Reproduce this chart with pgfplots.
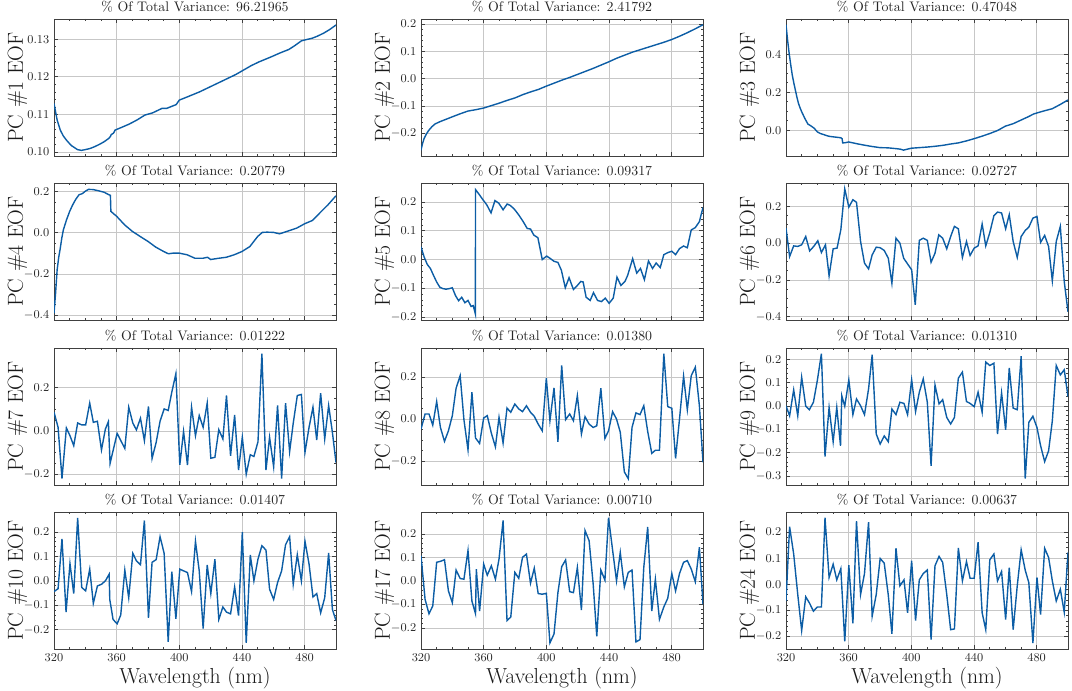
\documentclass[border=0pt]{standalone}
\usepackage{pgfplots}
\pgfplotsset{compat=1.18}
\definecolor{eofblue}{HTML}{0C5DA5}
\pgfplotsset{
  eof/.style={
    scale only axis, width=211.5pt, height=102.75pt,
    xmin=320, xmax=500, xtick={320,360,400,440,480}, minor x tick num=3,
    tick align=inside,
    grid=major, major grid style={black!22, line width=0.45pt},
    axis line style={black!75, line width=0.55pt},
    every tick/.style={black!75, line width=0.45pt},
    major tick length=3.2pt, minor tick length=1.6pt,
    tick label style={font=\fontsize{8.6}{9}\selectfont, text=black!85},
    title style={font=\fontsize{10.4}{12}\selectfont, text=black!85, yshift=-4.5pt},
    ylabel style={font=\fontsize{16.3}{18}\selectfont, text=black!90,
      at={(axis description cs:-0.11,0.5)}, anchor=base, rotate=0, inner sep=0pt},
    xlabel style={font=\fontsize{16.3}{18}\selectfont, text=black!90, yshift=2.5pt},
    yticklabel style={/pgf/number format/.cd, fixed, fixed zerofill, precision=1},
    cycle list={{eofblue, line width=1.05pt}},
    every axis plot post/.append style={eofblue, line width=1.05pt, mark=none},
    anchor=north west,
  },
  noxl/.style={xticklabels={}},
  botx/.style={xlabel={Wavelength (nm)}},
}
\begin{document}
\begin{tikzpicture}
\useasboundingbox (0,0) rectangle (804pt,-518.25pt);
% ---------------- Row 1
\begin{axis}[eof, noxl, at={(40.5pt,-14.25pt)},
  title={\% Of Total Variance: 96.21965}, ylabel={PC \#1 EOF},
  ymin=0.0989, ymax=0.1354, ytick={0.10,0.11,0.12,0.13}, minor y tick num=4,
  yticklabel style={/pgf/number format/.cd, fixed, fixed zerofill, precision=2}]
\addplot coordinates {(320,0.1129)(322,0.1085)(324,0.1058)(326,0.1042)(328,0.1031)(331,0.1017)(335,0.1006)(337.5,0.1004)(340,0.1006)(343,0.1009)(346,0.1014)(349,0.1020)(352,0.1027)(355,0.1036)(356,0.1041)(356.5,0.1046)(358,0.1050)(359,0.1058)(363,0.1065)(368,0.1074)(373,0.1085)(378,0.1098)(383,0.1104)(389,0.1116)(392,0.1116)(395,0.1121)(398,0.1126)(400,0.1138)(406,0.1148)(413,0.1160)(420,0.1174)(430,0.1194)(436,0.1206)(441,0.1218)(446,0.1230)(451,0.1240)(458,0.1252)(464,0.1263)(470,0.1273)(474,0.1284)(478,0.1296)(485,0.1303)(488,0.1308)(492,0.1316)(496,0.1326)(500,0.1338)};
\end{axis}
\begin{axis}[eof, noxl, at={(315.75pt,-14.25pt)},
  title={\% Of Total Variance: 2.41792}, ylabel={PC \#2 EOF},
  ymin=-0.282, ymax=0.218, ytick={-0.2,-0.1,0,0.1,0.2}, minor y tick num=4]
\addplot coordinates {(320,-0.261)(321,-0.236)(322,-0.218)(323.5,-0.201)(325,-0.188)(327,-0.175)(329,-0.165)(332,-0.157)(336,-0.148)(340,-0.139)(345,-0.128)(350,-0.118)(355,-0.113)(360,-0.107)(365,-0.098)(370,-0.089)(375,-0.079)(380,-0.070)(385,-0.058)(390,-0.048)(395,-0.039)(400,-0.027)(405,-0.016)(410,-0.005)(415,0.005)(420,0.016)(425,0.027)(430,0.038)(435,0.050)(440,0.062)(445,0.075)(450,0.086)(455,0.097)(460,0.106)(465,0.115)(470,0.124)(475,0.133)(480,0.143)(485,0.155)(490,0.168)(495,0.182)(500,0.197)};
\end{axis}
\begin{axis}[eof, noxl, at={(589.5pt,-14.25pt)},
  title={\% Of Total Variance: 0.47048}, ylabel={PC \#3 EOF},
  ymin=-0.136, ymax=0.585, ytick={0,0.2,0.4}, minor y tick num=3]
\addplot coordinates {(320,0.555)(321,0.475)(322,0.405)(323,0.345)(324,0.29)(325,0.248)(326,0.21)(327,0.172)(328,0.14)(329,0.117)(330,0.097)(332,0.062)(334,0.032)(336,0.022)(338,0.010)(340,-0.009)(342,-0.018)(344,-0.023)(346,-0.029)(348,-0.033)(352,-0.037)(355,-0.040)(355.8,-0.045)(356.2,-0.067)(358,-0.066)(360,-0.062)(365,-0.071)(370,-0.079)(375,-0.086)(380,-0.092)(385,-0.093)(390,-0.097)(393,-0.100)(395,-0.105)(397,-0.101)(400,-0.095)(405,-0.092)(410,-0.089)(415,-0.085)(420,-0.080)(425,-0.073)(430,-0.067)(435,-0.057)(440,-0.045)(445,-0.032)(450,-0.018)(455,-0.002)(460,0.021)(465,0.034)(470,0.053)(475,0.072)(478,0.085)(482,0.095)(485,0.102)(490,0.113)(495,0.135)(500,0.159)};
\end{axis}
% ---------------- Row 2
\begin{axis}[eof, noxl, at={(40.5pt,-137.25pt)},
  title={\% Of Total Variance: 0.20779}, ylabel={PC \#4 EOF},
  ymin=-0.424, ymax=0.242, ytick={-0.4,-0.2,0,0.2}, minor y tick num=3]
\addplot coordinates {(320,-0.392)(321,-0.294)(322,-0.18)(323,-0.12)(324,-0.075)(325,-0.025)(326,0.015)(328,0.063)(330,0.104)(332,0.137)(334,0.164)(336,0.185)(338,0.190)(340,0.202)(342,0.211)(345,0.210)(348,0.205)(352,0.197)(355,0.185)(356,0.182)(356.3,0.104)(360,0.080)(365,0.039)(370,0.007)(375,-0.018)(380,-0.042)(385,-0.070)(390,-0.091)(393,-0.102)(396,-0.099)(400,-0.099)(405,-0.107)(410,-0.124)(415,-0.124)(418,-0.119)(420,-0.130)(425,-0.124)(430,-0.119)(435,-0.107)(440,-0.091)(445,-0.067)(450,-0.018)(453,0.002)(456,0.003)(460,0.002)(464,-0.005)(470,0.010)(475,0.023)(480,0.044)(485,0.060)(490,0.099)(495,0.137)(500,0.180)};
\end{axis}
\begin{axis}[eof, noxl, at={(315.75pt,-137.25pt)},
  title={\% Of Total Variance: 0.09317}, ylabel={PC \#5 EOF},
  ymin=-0.21, ymax=0.266, ytick={-0.2,-0.1,0,0.1,0.2}, minor y tick num=4]
\addplot coordinates {(320,0.044)(322,0.009)(324,-0.017)(326,-0.031)(328,-0.055)(330,-0.078)(332,-0.096)(334,-0.101)(336,-0.103)(338,-0.101)(340,-0.098)(342,-0.125)(344,-0.143)(346,-0.131)(348,-0.150)(350,-0.142)(352,-0.163)(353.3,-0.160)(354.1,-0.176)(354.7,-0.189)(354.8,0.243)(357.3,0.225)(359.5,0.208)(362,0.190)(364.7,0.162)(367.2,0.205)(369.6,0.196)(372.4,0.173)(375,0.193)(377,0.188)(379.6,0.175)(382.4,0.155)(385.2,0.132)(387.8,0.108)(389.9,0.106)(392,0.085)(394.6,0.076)(397.4,0.0)(400.2,0.012)(402.7,0.003)(404.9,-0.006)(407.4,-0.010)(409.6,-0.037)(412.1,-0.098)(414.5,-0.063)(417.3,-0.104)(419.8,-0.090)(422,-0.076)(423.5,-0.078)(425.4,-0.131)(428,-0.142)(430.1,-0.115)(432.7,-0.142)(435.2,-0.146)(437.6,-0.134)(440.1,-0.152)(442.7,-0.134)(445.1,-0.061)(447.6,-0.090)(450.2,-0.076)(451.9,-0.055)(455.1,0.003)(457.7,-0.047)(460.1,-0.031)(462.6,-0.070)(465.2,-0.005)(467.8,-0.031)(470.1,-0.012)(472.7,-0.028)(475,0.017)(477.5,0.024)(480.1,0.029)(482.5,0.017)(485,0.038)(487.6,0.047)(490,0.041)(492.5,0.103)(495.1,0.111)(497.7,0.132)(500,0.181)};
\end{axis}
\begin{axis}[eof, noxl, at={(589.5pt,-137.25pt)},
  title={\% Of Total Variance: 0.02727}, ylabel={PC \#6 EOF},
  ymin=-0.418, ymax=0.327, ytick={-0.4,-0.2,0,0.2}, minor y tick num=3]
\addplot coordinates {(320,0.082)(322.3,-0.073)(324.9,-0.015)(327.5,-0.018)(330,-0.009)(332.6,0.036)(335.1,-0.042)(337.7,-0.018)(340.3,0.013)(342.6,-0.051)(345.2,-0.009)(347.5,-0.178)(350.1,-0.031)(352.6,-0.027)(355,0.073)(357.5,0.295)(360.1,0.196)(362.7,0.236)(365,0.222)(367.6,0.009)(370.1,-0.109)(372.7,-0.140)(375,-0.064)(377.6,-0.022)(380.1,-0.025)(382.7,-0.040)(385.3,-0.082)(387.6,-0.218)(390.2,0.027)(392.7,0.0)(395.1,-0.082)(397.6,-0.113)(400.2,-0.145)(402.5,-0.336)(405.1,0.015)(407.6,0.027)(410.2,0.015)(412.6,-0.104)(415.1,-0.055)(417.5,0.045)(420,0.027)(422.6,-0.031)(425.1,0.036)(427.5,0.091)(430,0.078)(432.6,-0.078)(435.2,0.009)(437.5,-0.067)(440.1,-0.027)(442.6,-0.015)(445.2,0.104)(447.5,-0.015)(450.1,0.058)(452.7,0.149)(455,0.169)(457.6,0.164)(460.2,0.078)(462.5,0.155)(465,0.009)(467.6,-0.078)(470.1,0.036)(472.7,0.069)(475,0.087)(477.6,0.136)(480.2,0.145)(482.5,0.004)(485.1,0.042)(487.6,-0.018)(490,-0.205)(492.5,0.009)(495.1,0.091)(497.6,-0.209)(500,-0.373)};
\end{axis}
% ---------------- Row 3
\begin{axis}[eof, noxl, at={(40.5pt,-261pt)},
  title={\% Of Total Variance: 0.01222}, ylabel={PC \#7 EOF},
  ymin=-0.25, ymax=0.384, ytick={-0.2,0,0.2}, minor y tick num=3]
\addplot coordinates {(320,0.087)(322.6,0.017)(325.1,-0.220)(327.9,0.014)(330.2,-0.022)(332.6,-0.068)(335.1,0.037)(337.7,0.028)(340.2,0.028)(342.8,0.129)(345.1,0.040)(347.7,0.045)(350.3,-0.088)(352.8,0.009)(354.7,0.043)(355.8,-0.150)(360.3,-0.011)(365.2,-0.081)(367.7,0.110)(370.3,0.037)(372.6,0.005)(375.2,0.059)(377.7,-0.045)(380.3,0.113)(382.6,-0.127)(385.2,-0.053)(387.7,0.045)(390.3,0.102)(392.9,0.095)(395.2,0.180)(397.8,0.265)(400.3,-0.157)(402.7,-0.002)(405.2,-0.158)(407.8,0.110)(410.3,-0.022)(412.7,0.071)(415.2,0.017)(417.8,0.129)(420.1,-0.126)(422.7,-0.122)(425.2,0.006)(427.8,-0.037)(430.1,0.164)(432.7,-0.115)(435.3,0.074)(437.8,-0.181)(440.2,-0.029)(442.7,-0.200)(445.3,-0.110)(447.6,-0.118)(450.2,-0.050)(452.7,0.358)(455.3,-0.181)(457.6,-0.029)(460.2,-0.166)(462.7,0.118)(465.3,-0.220)(467.8,0.129)(470.4,-0.096)(472.7,0.036)(475.3,0.164)(477.9,0.169)(480.2,-0.099)(482.8,0.017)(485.3,0.110)(487.7,-0.042)(490.2,0.175)(492.8,-0.037)(495.3,0.118)(497.7,-0.006)(500,-0.146)};
\end{axis}
\begin{axis}[eof, noxl, at={(315.75pt,-261pt)},
  title={\% Of Total Variance: 0.01380}, ylabel={PC \#8 EOF},
  ymin=-0.313, ymax=0.337, ytick={-0.2,0,0.2}, minor y tick num=3]
\addplot coordinates {(320,-0.048)(322.6,0.024)(325.1,0.024)(327.5,-0.029)(330,0.083)(332.4,-0.040)(335,-0.106)(337.5,-0.056)(340,0.016)(342.4,0.146)(345,0.206)(347.4,-0.003)(350,-0.146)(352.5,0.127)(354.8,-0.090)(357.4,-0.116)(360,0.005)(362.3,0.016)(364.9,-0.067)(367.5,-0.132)(369.8,0.008)(372.4,-0.114)(374.9,0.052)(377.3,0.032)(379.9,0.071)(382.4,0.048)(384.8,0.035)(387.3,0.063)(389.9,0.032)(392.3,0.013)(394.8,-0.024)(397.4,-0.056)(400,0.194)(402.3,-0.008)(404.9,0.148)(407.4,-0.108)(409.8,0.254)(412.3,-0.003)(414.9,0.024)(417.3,-0.008)(419.8,0.111)(422.4,-0.071)(424.7,0.011)(427.3,-0.024)(429.9,-0.040)(432.2,-0.032)(434.8,0.146)(437.4,-0.092)(439.7,-0.056)(442.3,0.035)(444.8,0.0)(447.2,-0.063)(449.8,-0.251)(452.3,-0.283)(454.7,-0.040)(457.2,0.029)(459.8,0.021)(462.2,0.063)(464.7,-0.059)(467.3,-0.163)(469.6,-0.148)(472.2,-0.148)(475,0.310)(477.5,0.059)(480.1,0.051)(482.5,-0.187)(485,0.0)(487.6,0.203)(490,0.044)(492.5,0.206)(495.1,0.246)(497.7,0.063)(500,-0.206)};
\end{axis}
\begin{axis}[eof, noxl, at={(589.5pt,-261pt)},
  title={\% Of Total Variance: 0.01310}, ylabel={PC \#9 EOF},
  ymin=-0.338, ymax=0.248, ytick={-0.3,-0.2,-0.1,0,0.1,0.2}, minor y tick num=4]
\addplot coordinates {(320,0.001)(322.3,-0.042)(324.9,0.069)(327.5,-0.042)(330,0.123)(332.6,-0.001)(334.9,-0.016)(337.5,0.016)(340,0.109)(342.6,0.224)(344.9,-0.216)(347.5,-0.006)(350.1,-0.153)(352.4,-0.006)(354.8,-0.170)(355.6,0.044)(357.5,-0.001)(360.1,0.112)(362.7,-0.037)(365,0.030)(367.6,0.001)(370.1,-0.037)(372.7,0.073)(375,0.219)(377.6,-0.120)(380.1,-0.163)(382.7,-0.128)(385.3,-0.153)(387.6,-0.013)(390.2,-0.037)(392.7,0.016)(395.3,0.011)(397.6,-0.037)(400.2,0.112)(402.7,-0.024)(405.1,0.059)(407.6,0.116)(410.2,0.016)(412.6,-0.256)(415.1,0.090)(417.7,0.009)(420,0.027)(422.6,-0.049)(425.1,-0.077)(427.5,-0.049)(430,0.119)(432.6,0.145)(435.2,0.019)(437.5,0.011)(440.1,-0.003)(442.6,0.059)(445.2,-0.027)(447.5,0.188)(450.1,0.173)(452.7,0.183)(455,-0.120)(457.6,0.056)(460.2,-0.102)(462.5,0.163)(465,-0.009)(467.6,-0.016)(470.1,0.213)(472.7,-0.311)(475,-0.070)(477.6,-0.044)(480.2,-0.092)(482.5,-0.170)(485.1,-0.238)(487.6,-0.192)(490,-0.063)(492.5,0.173)(495.1,0.133)(497.6,0.155)(500,0.040)};
\end{axis}
% ---------------- Row 4
\begin{axis}[eof, botx, at={(40.5pt,-384pt)},
  title={\% Of Total Variance: 0.01407}, ylabel={PC \#10 EOF},
  ymin=-0.279, ymax=0.282, ytick={-0.2,-0.1,0,0.1,0.2}, minor y tick num=4]
\addplot coordinates {(320,-0.044)(322.6,-0.032)(325.1,0.172)(327.7,-0.128)(330.2,0.071)(332.6,-0.052)(335.1,0.258)(337.7,-0.027)(340.2,-0.041)(342.8,0.048)(345.1,-0.092)(347.7,-0.021)(350.3,-0.014)(352.8,0.0)(355.2,0.027)(355.6,-0.076)(357.7,-0.158)(360.3,-0.176)(362.6,-0.140)(365.2,0.044)(367.7,-0.069)(370.3,0.113)(372.6,0.082)(375.2,0.066)(377.7,0.247)(380.3,-0.151)(382.6,0.076)(385.2,0.087)(387.7,0.181)(390.3,0.113)(392.9,-0.250)(395.2,0.038)(397.8,-0.155)(400.3,0.048)(402.7,0.041)(405.2,0.034)(407.8,-0.044)(410.3,0.162)(412.7,0.041)(415.2,-0.195)(417.8,0.065)(420.1,-0.052)(422.7,0.089)(425.2,-0.158)(427.8,-0.107)(430.1,-0.128)(432.7,-0.135)(435.3,-0.025)(437.8,-0.142)(440.2,0.199)(442.7,-0.254)(445.3,0.106)(447.6,0.0)(450.2,0.089)(452.7,0.144)(455.3,0.126)(457.6,-0.034)(460.2,-0.076)(462.7,-0.007)(465.3,0.041)(467.8,0.148)(470.4,0.181)(472.7,-0.014)(475.3,0.107)(477.9,0.0)(480.2,0.162)(482.8,0.069)(485.3,-0.066)(487.7,-0.052)(490.2,-0.131)(492.8,-0.069)(495.3,0.114)(497.7,-0.117)(500,-0.162)};
\end{axis}
\begin{axis}[eof, botx, at={(315.75pt,-384pt)},
  title={\% Of Total Variance: 0.00710}, ylabel={PC \#17 EOF},
  ymin=-0.29, ymax=0.293, ytick={-0.2,-0.1,0,0.1,0.2}, minor y tick num=4]
\addplot coordinates {(320,0.107)(322.6,-0.079)(325.1,-0.140)(327.5,-0.107)(330,0.079)(332.4,0.083)(335,0.090)(337.5,-0.043)(340,-0.093)(342.4,0.046)(345,0.010)(347.4,0.007)(350,0.129)(352.5,-0.086)(354.8,-0.140)(355.3,0.050)(357.4,-0.129)(360,0.071)(362.3,0.024)(364.9,0.064)(367.5,0.007)(369.8,0.093)(372.4,0.257)(374.9,-0.169)(377.3,-0.154)(379.9,0.036)(382.4,0.011)(384.8,0.100)(387.3,0.114)(389.9,-0.010)(392.3,0.054)(394.8,-0.054)(397.4,-0.057)(400,-0.053)(402.3,-0.264)(404.9,-0.226)(407.4,-0.050)(409.8,0.060)(412.3,0.089)(414.9,-0.046)(417.3,-0.050)(419.8,0.057)(422.4,-0.124)(424.7,0.214)(427.3,0.171)(429.9,-0.014)(432.2,-0.236)(434.8,0.046)(437.4,0.003)(439.7,0.269)(442.3,0.131)(444.8,0.0)(447.2,0.121)(449.8,-0.026)(452.3,0.036)(454.7,0.046)(457.2,-0.260)(459.8,-0.250)(462.2,0.057)(464.7,0.229)(467.3,-0.129)(469.6,0.007)(472.2,-0.164)(475,-0.111)(477.5,-0.074)(480.1,0.031)(482.5,-0.043)(485,0.031)(487.6,0.079)(490,0.086)(492.5,0.050)(495.1,-0.004)(497.7,0.143)(500,-0.100)};
\end{axis}
\begin{axis}[eof, botx, at={(589.5pt,-384pt)},
  title={\% Of Total Variance: 0.00637}, ylabel={PC \#24 EOF},
  ymin=-0.248, ymax=0.277, ytick={-0.2,-0.1,0,0.1,0.2}, minor y tick num=4]
\addplot coordinates {(320,-0.064)(322.3,0.221)(324.9,0.116)(327.5,-0.039)(330,-0.177)(332.6,-0.048)(334.9,-0.071)(337.5,-0.103)(340,-0.087)(342.6,-0.087)(344.9,0.255)(347.5,0.026)(350.1,0.077)(352.4,0.017)(355,0.060)(357.5,-0.219)(360.1,0.073)(362.7,-0.150)(365,0.242)(367.6,-0.039)(370.1,0.041)(372.7,0.238)(375,-0.122)(377.6,-0.039)(380.1,0.099)(382.7,0.081)(385.3,-0.042)(387.6,-0.190)(390.2,0.138)(392.7,-0.006)(395.3,0.017)(397.6,-0.109)(400.2,0.090)(402.7,-0.139)(405.1,0.017)(407.6,0.041)(410.2,0.055)(412.6,-0.212)(415.1,0.071)(417.7,0.107)(420,0.084)(422.6,-0.039)(425.1,-0.174)(427.5,-0.171)(430,0.139)(432.6,0.013)(435.2,0.087)(437.5,0.023)(440.1,0.023)(442.6,0.161)(445.2,-0.109)(447.5,-0.174)(450.1,0.094)(452.7,0.116)(455,0.013)(457.6,0.049)(460.2,-0.135)(462.5,0.064)(465,-0.174)(467.6,-0.006)(470.1,0.132)(472.7,0.054)(475,0.006)(477.6,-0.225)(480.2,0.026)(482.5,-0.116)(485.1,0.138)(487.6,0.103)(490,0.013)(492.5,-0.064)(495.1,-0.019)(497.6,-0.107)(500,0.122)};
\end{axis}
\end{tikzpicture}
\end{document}
